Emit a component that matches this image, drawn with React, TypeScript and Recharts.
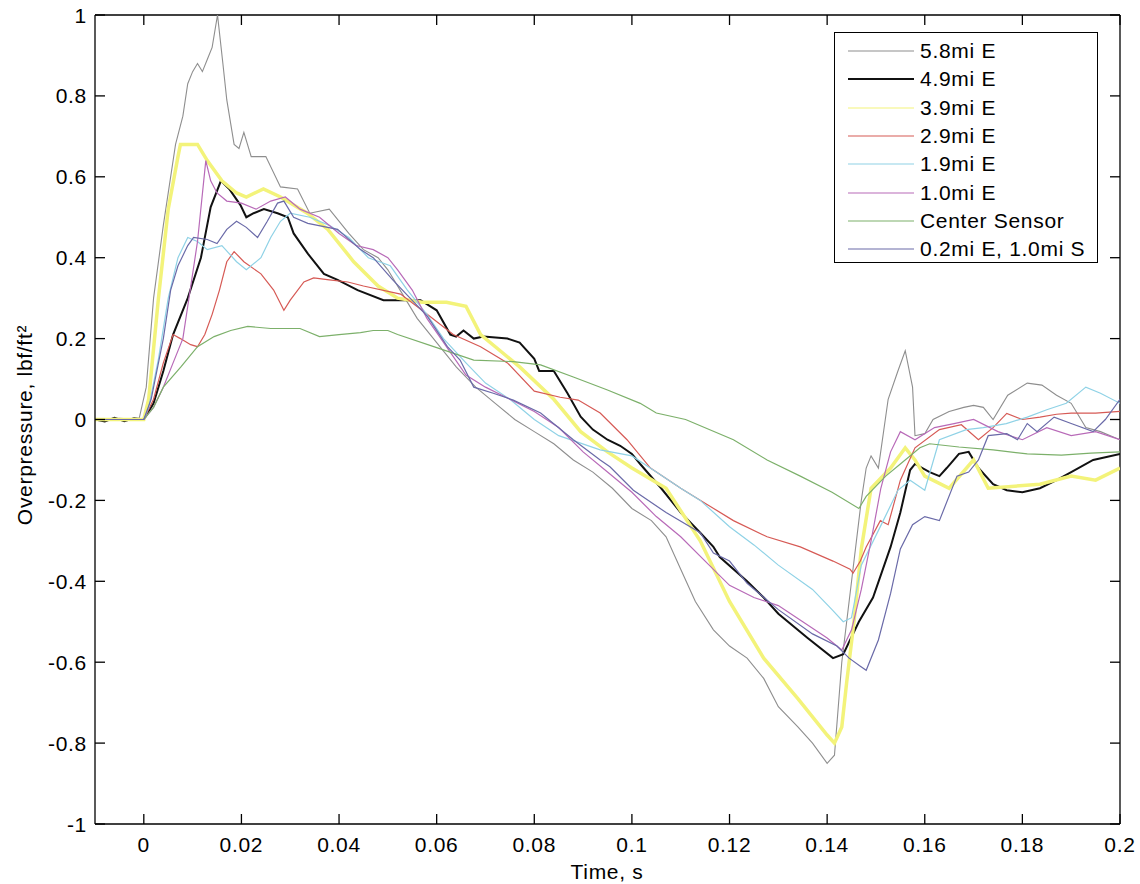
import React from 'react';
import { LineChart, Line, XAxis, YAxis, ReferenceLine } from 'recharts';

const FONT = '"Liberation Sans", Arial, Helvetica, sans-serif';

const xTicks = [0, 0.02, 0.04, 0.06, 0.08, 0.1, 0.12, 0.14, 0.16, 0.18, 0.2];
const yTicks = [-1, -0.8, -0.6, -0.4, -0.2, 0, 0.2, 0.4, 0.6, 0.8, 1];
const xDomain = [-0.01, 0.2];
const yDomain = [-1, 1];

const seriesNames = ['5.8mi E', '4.9mi E', '3.9mi E', '2.9mi E', '1.9mi E', '1.0mi E', 'Center Sensor', '0.2mi E, 1.0mi S'];

const s58 = [[-0.01,0],[-0.005,0.003],[-0.001,0],[0.0005,0.08],[0.002,0.3],[0.004,0.48],[0.0065,0.68],[0.008,0.75],[0.009,0.83],[0.01,0.86],[0.011,0.88],[0.012,0.86],[0.013,0.89],[0.014,0.92],[0.0151,1.0],[0.0162,0.88],[0.017,0.79],[0.0185,0.68],[0.0195,0.67],[0.0205,0.71],[0.022,0.65],[0.025,0.65],[0.028,0.575],[0.0315,0.57],[0.034,0.51],[0.038,0.52],[0.042,0.46],[0.045,0.42],[0.048,0.4],[0.05,0.37],[0.053,0.31],[0.056,0.25],[0.06,0.19],[0.064,0.13],[0.068,0.08],[0.072,0.04],[0.076,0.0],[0.08,-0.03],[0.084,-0.06],[0.088,-0.1],[0.092,-0.13],[0.096,-0.17],[0.1,-0.22],[0.104,-0.25],[0.107,-0.29],[0.11,-0.37],[0.113,-0.45],[0.1167,-0.52],[0.12,-0.56],[0.1236,-0.59],[0.127,-0.64],[0.13,-0.71],[0.134,-0.76],[0.137,-0.8],[0.14,-0.85],[0.1415,-0.83],[0.143,-0.6],[0.145,-0.4],[0.147,-0.2],[0.148,-0.12],[0.149,-0.09],[0.1505,-0.12],[0.1525,0.05],[0.1545,0.12],[0.156,0.17],[0.1575,0.08],[0.158,-0.04],[0.16,-0.035],[0.1617,0.0],[0.165,0.02],[0.168,0.03],[0.17,0.035],[0.172,0.03],[0.174,0.0],[0.177,0.06],[0.181,0.09],[0.184,0.085],[0.187,0.06],[0.19,0.04],[0.193,-0.02],[0.196,-0.03],[0.2,-0.05]];

const s49 = [[-0.01,0],[-0.008,-0.005],[-0.006,0.004],[-0.004,-0.004],[-0.002,0.003],[0,0],[0.002,0.04],[0.004,0.12],[0.006,0.21],[0.009,0.3],[0.0117,0.4],[0.0137,0.525],[0.0158,0.59],[0.0175,0.57],[0.0198,0.53],[0.021,0.5],[0.0225,0.51],[0.0246,0.52],[0.0274,0.51],[0.0295,0.5],[0.0307,0.46],[0.0336,0.41],[0.0369,0.36],[0.0397,0.345],[0.0438,0.32],[0.0491,0.295],[0.054,0.295],[0.0567,0.295],[0.06,0.27],[0.0628,0.21],[0.064,0.205],[0.0655,0.22],[0.0676,0.2],[0.0696,0.205],[0.0745,0.2],[0.077,0.19],[0.08,0.15],[0.081,0.12],[0.084,0.12],[0.0868,0.065],[0.0895,0.007],[0.092,-0.025],[0.095,-0.05],[0.0976,-0.065],[0.1,-0.085],[0.1017,-0.11],[0.106,-0.17],[0.11,-0.23],[0.114,-0.28],[0.1167,-0.315],[0.118,-0.34],[0.1236,-0.4],[0.127,-0.44],[0.13,-0.48],[0.136,-0.54],[0.1412,-0.59],[0.1433,-0.58],[0.1465,-0.5],[0.1494,-0.44],[0.153,-0.315],[0.155,-0.23],[0.157,-0.125],[0.158,-0.11],[0.161,-0.13],[0.163,-0.14],[0.1645,-0.12],[0.167,-0.085],[0.169,-0.08],[0.171,-0.12],[0.174,-0.16],[0.1768,-0.175],[0.18,-0.18],[0.1836,-0.17],[0.187,-0.15],[0.19,-0.13],[0.1945,-0.1],[0.2,-0.085]];

const s39 = [[-0.01,0],[0,0],[0.001,0.05],[0.003,0.3],[0.005,0.52],[0.007,0.65],[0.0075,0.68],[0.011,0.68],[0.013,0.64],[0.016,0.59],[0.019,0.56],[0.021,0.55],[0.0245,0.57],[0.028,0.55],[0.0335,0.51],[0.0377,0.47],[0.043,0.39],[0.048,0.33],[0.052,0.3],[0.057,0.29],[0.062,0.29],[0.066,0.28],[0.069,0.21],[0.073,0.17],[0.077,0.13],[0.084,0.05],[0.0895,-0.03],[0.095,-0.08],[0.1,-0.12],[0.107,-0.17],[0.114,-0.3],[0.12,-0.45],[0.127,-0.59],[0.134,-0.69],[0.14,-0.78],[0.1415,-0.8],[0.143,-0.76],[0.144,-0.65],[0.1455,-0.5],[0.147,-0.32],[0.149,-0.17],[0.153,-0.12],[0.156,-0.07],[0.158,-0.1],[0.16,-0.14],[0.165,-0.17],[0.17,-0.1],[0.173,-0.17],[0.1836,-0.16],[0.19,-0.14],[0.195,-0.15],[0.2,-0.12]];

const s29 = [[-0.01,0],[0,0],[0.002,0.05],[0.004,0.14],[0.006,0.21],[0.0075,0.2],[0.0096,0.185],[0.011,0.18],[0.0125,0.21],[0.014,0.26],[0.0155,0.32],[0.017,0.39],[0.0185,0.415],[0.0205,0.39],[0.024,0.36],[0.0266,0.32],[0.0287,0.27],[0.03,0.295],[0.0328,0.34],[0.0348,0.35],[0.038,0.345],[0.0418,0.34],[0.045,0.33],[0.0526,0.31],[0.057,0.27],[0.0634,0.21],[0.069,0.18],[0.0745,0.14],[0.08,0.07],[0.0853,0.055],[0.089,0.048],[0.0935,0.016],[0.099,-0.05],[0.1038,-0.12],[0.11,-0.17],[0.1154,-0.21],[0.1208,-0.25],[0.1277,-0.29],[0.1345,-0.315],[0.1412,-0.35],[0.1447,-0.37],[0.1453,-0.38],[0.1468,-0.35],[0.148,-0.315],[0.1509,-0.25],[0.1525,-0.26],[0.155,-0.15],[0.158,-0.07],[0.163,-0.025],[0.1675,-0.013],[0.171,-0.05],[0.174,-0.02],[0.1768,0.015],[0.18,0.0],[0.1836,0.006],[0.187,0.013],[0.19,0.016],[0.195,0.016],[0.2,0.02]];

const s19 = [[-0.01,0],[0,0],[0.001,0.03],[0.003,0.15],[0.005,0.3],[0.007,0.4],[0.009,0.45],[0.011,0.44],[0.013,0.42],[0.016,0.43],[0.019,0.39],[0.021,0.37],[0.024,0.4],[0.026,0.45],[0.028,0.49],[0.03,0.51],[0.034,0.5],[0.038,0.48],[0.042,0.45],[0.046,0.4],[0.0505,0.38],[0.054,0.32],[0.058,0.26],[0.0614,0.2],[0.066,0.14],[0.07,0.09],[0.075,0.05],[0.08,0.0],[0.085,-0.04],[0.0935,-0.075],[0.1,-0.09],[0.105,-0.13],[0.11,-0.17],[0.114,-0.2],[0.12,-0.265],[0.125,-0.31],[0.13,-0.36],[0.137,-0.42],[0.141,-0.47],[0.1433,-0.5],[0.145,-0.49],[0.147,-0.36],[0.1515,-0.25],[0.1545,-0.175],[0.157,-0.15],[0.16,-0.175],[0.163,-0.05],[0.1685,-0.025],[0.172,-0.02],[0.1767,-0.01],[0.181,0.006],[0.185,0.024],[0.189,0.04],[0.193,0.08],[0.196,0.065],[0.2,0.04]];

const s10 = [[-0.01,0],[0,0],[0.002,0.03],[0.004,0.08],[0.006,0.14],[0.008,0.2],[0.009,0.28],[0.011,0.44],[0.0127,0.64],[0.0137,0.59],[0.015,0.56],[0.017,0.54],[0.02,0.535],[0.023,0.52],[0.026,0.54],[0.029,0.55],[0.032,0.52],[0.036,0.5],[0.04,0.46],[0.0435,0.43],[0.047,0.42],[0.05,0.4],[0.052,0.37],[0.055,0.32],[0.058,0.25],[0.062,0.18],[0.066,0.11],[0.07,0.08],[0.075,0.05],[0.08,0.02],[0.085,-0.02],[0.09,-0.08],[0.095,-0.13],[0.1,-0.18],[0.105,-0.24],[0.11,-0.29],[0.115,-0.35],[0.12,-0.41],[0.125,-0.44],[0.13,-0.46],[0.135,-0.5],[0.14,-0.54],[0.143,-0.57],[0.145,-0.52],[0.147,-0.42],[0.149,-0.3],[0.151,-0.17],[0.153,-0.08],[0.155,-0.03],[0.158,-0.05],[0.162,-0.02],[0.166,-0.01],[0.17,0.0],[0.175,-0.03],[0.18,-0.05],[0.185,-0.02],[0.19,-0.04],[0.195,-0.03],[0.2,-0.05]];

const sCenter = [[-0.01,0],[0,0],[0.002,0.03],[0.004,0.08],[0.0076,0.13],[0.011,0.18],[0.0144,0.205],[0.0178,0.22],[0.0213,0.23],[0.026,0.225],[0.032,0.225],[0.036,0.205],[0.04,0.21],[0.0444,0.215],[0.047,0.22],[0.05,0.22],[0.052,0.21],[0.0594,0.18],[0.0676,0.147],[0.0757,0.143],[0.0813,0.135],[0.088,0.105],[0.095,0.073],[0.1017,0.04],[0.105,0.016],[0.111,0.0],[0.1208,-0.05],[0.1277,-0.1],[0.1345,-0.14],[0.141,-0.18],[0.1465,-0.22],[0.148,-0.19],[0.152,-0.14],[0.155,-0.11],[0.159,-0.07],[0.161,-0.06],[0.167,-0.068],[0.174,-0.075],[0.181,-0.085],[0.188,-0.088],[0.194,-0.083],[0.2,-0.08]];

const s02 = [[-0.01,0],[0,0],[0.0015,0.05],[0.004,0.2],[0.0055,0.32],[0.007,0.38],[0.009,0.43],[0.0102,0.45],[0.013,0.445],[0.015,0.435],[0.017,0.47],[0.019,0.49],[0.021,0.475],[0.0233,0.45],[0.0253,0.49],[0.0274,0.535],[0.0287,0.54],[0.0307,0.5],[0.0336,0.485],[0.0397,0.47],[0.0444,0.42],[0.047,0.4],[0.051,0.345],[0.0581,0.255],[0.0622,0.18],[0.0648,0.147],[0.0676,0.08],[0.0716,0.065],[0.0757,0.048],[0.0813,0.016],[0.088,-0.05],[0.0935,-0.1],[0.0955,-0.117],[0.1003,-0.175],[0.107,-0.23],[0.114,-0.28],[0.1167,-0.33],[0.12,-0.35],[0.1236,-0.405],[0.13,-0.47],[0.137,-0.53],[0.142,-0.56],[0.1445,-0.59],[0.1468,-0.61],[0.148,-0.62],[0.1505,-0.545],[0.153,-0.43],[0.155,-0.32],[0.1575,-0.26],[0.16,-0.24],[0.163,-0.25],[0.1666,-0.14],[0.169,-0.13],[0.171,-0.1],[0.173,-0.04],[0.1768,-0.035],[0.179,-0.05],[0.181,-0.01],[0.183,-0.03],[0.1865,0.006],[0.19,-0.01],[0.1945,-0.03],[0.197,0.0],[0.2,0.05]];

const seriesData = [s58, s49, s39, s29, s19, s10, sCenter, s02];
const seriesColors = ['#8e8e8e', '#111111', '#f3f37a', '#d65a55', '#8fd2e6', '#b86ab8', '#7cb06a', '#6a6aa8'];
const seriesWidths = [1.1, 2, 3.5, 1.2, 1.2, 1.2, 1.2, 1.2];

const toPts = (a: number[][]) => a.map(([t, v]) => ({ t, v }));

// plot box (px), defined by the chart margins and axis sizes below
const BOX = { left: 95, right: 1120, top: 15, bottom: 824 };
const TICK_PX = 10;
const sx = (t: number) => BOX.left + ((t - xDomain[0]) / (xDomain[1] - xDomain[0])) * (BOX.right - BOX.left);
const sy = (v: number) => BOX.bottom - ((v - yDomain[0]) / (yDomain[1] - yDomain[0])) * (BOX.bottom - BOX.top);

const textStyle: React.CSSProperties = { fontSize: 21, fontFamily: FONT, letterSpacing: 0.7 };

const BottomTick = (p: any) => (
  <text x={p.x} y={p.y + 28} textAnchor="middle" fill="#000" style={textStyle}>{String(p.payload.value)}</text>
);
const LeftTick = (p: any) => (
  <text x={p.x - 8} y={p.y + 7.5} textAnchor="end" fill="#000" style={textStyle}>{String(p.payload.value)}</text>
);

export default function App() {
  return (
    <div style={{ position: 'absolute', left: 0, top: 0, width: 1140, height: 884, background: '#fff', fontFamily: FONT }}>
      <LineChart width={1140} height={884} margin={{ top: 15, right: 20, bottom: 0, left: 0 }}>
        <XAxis xAxisId="b" type="number" dataKey="t" domain={xDomain} allowDataOverflow
          ticks={xTicks} interval={0} height={60} tickSize={0} tickMargin={0} tickLine={false}
          stroke="#000" strokeWidth={1.3} tick={BottomTick} />
        <YAxis yAxisId="l" type="number" domain={yDomain} allowDataOverflow ticks={yTicks} interval={0}
          width={95} tickSize={0} tickMargin={0} tickLine={false} stroke="#000" strokeWidth={1.3} tick={LeftTick} />

        <ReferenceLine xAxisId="b" yAxisId="l" y={yDomain[1]} stroke="#000" strokeWidth={1.3} />
        <ReferenceLine xAxisId="b" yAxisId="l" x={xDomain[1]} stroke="#000" strokeWidth={1.3} />

        {seriesData.map((d, i) => (
          <Line key={seriesNames[i]} name={seriesNames[i]} data={toPts(d)} dataKey="v" xAxisId="b" yAxisId="l"
            type="linear" stroke={seriesColors[i]} strokeWidth={seriesWidths[i]} dot={false} activeDot={false}
            isAnimationActive={false} />
        ))}
      </LineChart>

      {/* inward tick marks on all four sides of the box */}
      <svg width={1140} height={884} style={{ position: 'absolute', left: 0, top: 0, pointerEvents: 'none' }}>
        {xTicks.map((t) => (
          <g key={'x' + t}>
            <line x1={sx(t)} x2={sx(t)} y1={BOX.bottom} y2={BOX.bottom - TICK_PX} stroke="#000" strokeWidth={1.3} />
            <line x1={sx(t)} x2={sx(t)} y1={BOX.top} y2={BOX.top + TICK_PX} stroke="#000" strokeWidth={1.3} />
          </g>
        ))}
        {yTicks.map((v) => (
          <g key={'y' + v}>
            <line x1={BOX.left} x2={BOX.left + TICK_PX} y1={sy(v)} y2={sy(v)} stroke="#000" strokeWidth={1.3} />
            <line x1={BOX.right} x2={BOX.right - TICK_PX} y1={sy(v)} y2={sy(v)} stroke="#000" strokeWidth={1.3} />
          </g>
        ))}
      </svg>

      <div style={{ position: 'absolute', left: 607, top: 872, transform: 'translate(-50%, -50%)', fontSize: 21, letterSpacing: 0.7, whiteSpace: 'nowrap', color: '#000' }}>
        Time, s
      </div>
      <div style={{ position: 'absolute', left: 25, top: 425, transform: 'translate(-50%, -50%) rotate(-90deg)', fontSize: 21, letterSpacing: 0.7, whiteSpace: 'nowrap', color: '#000' }}>
        Overpressure, lbf/ft²
      </div>

      <div style={{ position: 'absolute', left: 834, top: 32, width: 264, height: 231, boxSizing: 'border-box', border: '1.3px solid #000', background: '#fff' }}>
        {seriesNames.map((n, i) => (
          <div key={n} style={{ position: 'absolute', left: 0, top: 18 + i * 28.3, height: 0 }}>
            <svg width={70} height={6} style={{ position: 'absolute', left: 12, top: -3 }}>
              <line x1={1} y1={3} x2={67} y2={3} stroke={seriesColors[i]} strokeWidth={i === 1 ? 2 : 1.2} />
            </svg>
            <div style={{ position: 'absolute', left: 85, top: 0, transform: 'translateY(-50%)', fontSize: 21, letterSpacing: 0.7, whiteSpace: 'nowrap', color: '#000', lineHeight: '24px' }}>
              {n}
            </div>
          </div>
        ))}
      </div>
    </div>
  );
}
